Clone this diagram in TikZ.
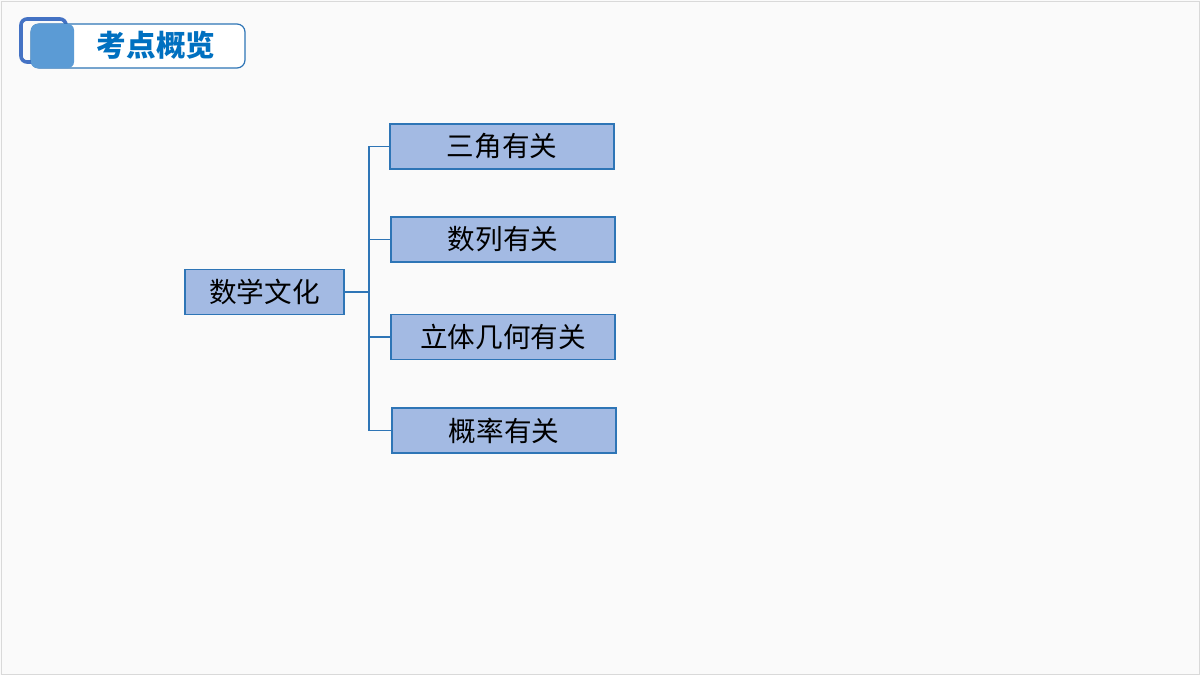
\documentclass[tikz,border=0pt]{standalone}
\usepackage{fontspec}
\usepackage{xcolor}
\usetikzlibrary{positioning}
\newfontfamily\cjk{Noto Sans CJK SC}
\definecolor{boxfill}{HTML}{A3BAE3}
\definecolor{boxline}{HTML}{2E75B6}
\definecolor{headblue}{HTML}{0070C0}
\definecolor{headdark}{HTML}{4472C4}
\definecolor{headfill}{HTML}{5B9BD5}

\begin{document}
\begin{tikzpicture}[x=0.5pt, y=-0.5pt, every node/.style={font=\cjk\fontsize{13.8pt}{15pt}\selectfont},
  topic/.style={draw=boxline, line width=0.8pt, fill=boxfill, minimum width=112pt, minimum height=22.5pt, inner sep=0pt},
  link/.style={draw=boxline, line width=0.7pt}]
  \fill[gray!4] (0,0) rectangle (1200,675);
  \draw[gray!30, line width=0.5pt] (1,1) rectangle (1199,674);
  % header
  \draw[headdark, line width=1.8pt, rounded corners=3pt] (21,19) rectangle (66,62);
  \draw[boxline, line width=0.6pt, fill=white, rounded corners=4pt] (31,24) rectangle (245,68);
  \fill[headfill, rounded corners=3pt] (31,24) rectangle (74,68);
  \node[text=headblue, font=\cjk\bfseries\fontsize{14.8pt}{16pt}\selectfont] (title) at (156,45) {考点概览};
  % tree
  \node[topic, minimum width=79.5pt] (root) at (264.5,292) {数学文化};
  \node[topic] (sanjiao) at (502,146.5) {三角有关};
  \node[topic] (shulie) at (503,239.5) {数列有关};
  \node[topic] (liti) at (503,337) {立体几何有关};
  \node[topic] (gailv) at (504,430.5) {概率有关};
  \coordinate (fork) at (369,292);
  \draw[link] (root.east) -- (fork);
  \draw[link] (fork) |- (sanjiao.west);
  \draw[link] (fork) |- (shulie.west);
  \draw[link] (fork) |- (liti.west);
  \draw[link] (fork) |- (gailv.west);
\end{tikzpicture}
\end{document}
